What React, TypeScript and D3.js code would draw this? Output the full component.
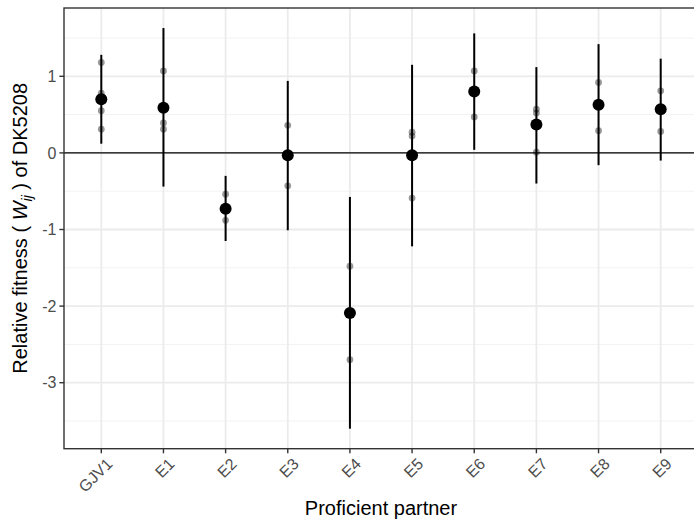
import React, { useEffect, useRef } from 'react';
import * as d3 from 'd3';

// partners on the x axis
const partners = ['GJV1', 'E1', 'E2', 'E3', 'E4', 'E5', 'E6', 'E7', 'E8', 'E9'];
// mean relative fitness and its interval
const means = [0.70, 0.59, -0.73, -0.03, -2.09, -0.03, 0.80, 0.37, 0.63, 0.57];
const lower = [0.12, -0.44, -1.15, -1.01, -3.60, -1.22, 0.04, -0.40, -0.16, -0.10];
const upper = [1.28, 1.63, -0.30, 0.94, -0.575, 1.15, 1.56, 1.12, 1.42, 1.23];
// single replicates per partner
const replicates = [
  [1.18, 0.78, 0.55, 0.31],
  [1.07, 0.39, 0.31],
  [-0.54, -0.88],
  [0.36, -0.43],
  [-1.48, -2.70],
  [0.27, 0.22, -0.59],
  [1.07, 0.47],
  [0.57, 0.52, 0.01],
  [0.92, 0.29],
  [0.81, 0.28],
];
const yTicks = [-3, -2, -1, 0, 1];

const W = 694;
const H = 519;
const font = '"Liberation Sans", Arial, sans-serif';

function App() {
  const svgRef = useRef(null);

  useEffect(() => {
    const svg = d3.select(svgRef.current);
    svg.selectAll('*').remove();

    const left = 64, top = 8, right = 698, bottom = 448.7;

    const x = d3.scalePoint().domain(partners).range([left, right]).padding(0.6);
    const yMin = d3.min(lower), yMax = d3.max(upper);
    const pad = (yMax - yMin) * 0.05;
    const y = d3.scaleLinear().domain([yMin - pad, yMax + pad]).range([bottom, top]);

    svg.append('rect').attr('x', left).attr('y', top)
      .attr('width', right - left).attr('height', bottom - top).attr('fill', 'white');

    // minor grid
    const minor = d3.range(-3.5, 2, 1).filter(v => v > y.domain()[0] && v < y.domain()[1]);
    svg.append('g').selectAll('line').data(minor).enter().append('line')
      .attr('x1', left).attr('x2', right)
      .attr('y1', d => y(d)).attr('y2', d => y(d))
      .attr('stroke', '#f2f2f2').attr('stroke-width', 1);

    // major grid
    svg.append('g').selectAll('line').data(yTicks).enter().append('line')
      .attr('x1', left).attr('x2', right)
      .attr('y1', d => y(d)).attr('y2', d => y(d))
      .attr('stroke', '#ebebeb').attr('stroke-width', 1.8);
    svg.append('g').selectAll('line').data(partners).enter().append('line')
      .attr('x1', d => x(d)).attr('x2', d => x(d))
      .attr('y1', top).attr('y2', bottom)
      .attr('stroke', '#ebebeb').attr('stroke-width', 1.8);

    // zero line
    svg.append('line').attr('x1', left).attr('x2', right)
      .attr('y1', y(0)).attr('y2', y(0))
      .attr('stroke', 'black').attr('stroke-width', 1.3);

    // error bars
    svg.append('g').selectAll('line').data(partners).enter().append('line')
      .attr('x1', d => x(d)).attr('x2', d => x(d))
      .attr('y1', (d, i) => y(lower[i])).attr('y2', (d, i) => y(upper[i]))
      .attr('stroke', 'black').attr('stroke-width', 2);

    // replicates
    const reps = partners.flatMap((p, i) => replicates[i].map(v => ({ p, v })));
    svg.append('g').selectAll('circle').data(reps).enter().append('circle')
      .attr('cx', d => x(d.p)).attr('cy', d => y(d.v)).attr('r', 3.4)
      .attr('fill', 'black').attr('fill-opacity', 0.4);

    // means
    svg.append('g').selectAll('circle').data(partners).enter().append('circle')
      .attr('cx', d => x(d)).attr('cy', (d, i) => y(means[i])).attr('r', 6)
      .attr('fill', 'black');

    // panel border
    svg.append('rect').attr('x', left).attr('y', top)
      .attr('width', right - left).attr('height', bottom - top)
      .attr('fill', 'none').attr('stroke', '#333333').attr('stroke-width', 1.4);

    // y axis
    const yAxis = svg.append('g');
    yAxis.selectAll('line').data(yTicks).enter().append('line')
      .attr('x1', left - 4.6).attr('x2', left)
      .attr('y1', d => y(d)).attr('y2', d => y(d))
      .attr('stroke', '#333333').attr('stroke-width', 1.4);
    yAxis.selectAll('text').data(yTicks).enter().append('text')
      .attr('x', left - 7.5).attr('y', d => y(d)).attr('dy', '0.36em')
      .attr('text-anchor', 'end').attr('font-family', font).attr('font-size', 16)
      .attr('fill', '#4d4d4d').text(d => String(d));

    // x axis
    const xAxis = svg.append('g');
    xAxis.selectAll('line').data(partners).enter().append('line')
      .attr('x1', d => x(d)).attr('x2', d => x(d))
      .attr('y1', bottom).attr('y2', bottom + 4.6)
      .attr('stroke', '#333333').attr('stroke-width', 1.4);
    xAxis.selectAll('text').data(partners).enter().append('text')
      .attr('transform', d => `translate(${x(d) + 4},${bottom + 8}) rotate(-45)`)
      .attr('dy', '0.72em')
      .attr('text-anchor', 'end').attr('font-family', font).attr('font-size', 16)
      .attr('fill', '#4d4d4d').text(d => d);

    // titles
    svg.append('text')
      .attr('x', (left + right) / 2).attr('y', 515)
      .attr('text-anchor', 'middle').attr('font-family', font).attr('font-size', 20)
      .attr('fill', 'black').text('Proficient partner');

    const yt = svg.append('text')
      .attr('transform', `translate(27,${(top + bottom) / 2}) rotate(-90)`)
      .attr('text-anchor', 'middle').attr('font-family', font).attr('font-size', 20)
      .attr('fill', 'black');
    yt.append('tspan').text('Relative fitness ( ');
    yt.append('tspan').attr('font-style', 'italic').text('W');
    yt.append('tspan').attr('font-style', 'italic').attr('font-size', 14)
      .attr('dy', 5).text('ij');
    yt.append('tspan').attr('dy', -5).text(' ) of DK5208');
  }, []);

  return (
    <>
      <style>{'body{margin:0}'}</style>
      <svg ref={svgRef} width={W} height={H} style={{ display: 'block', background: 'white' }}></svg>
    </>
  );
}

export default App;
